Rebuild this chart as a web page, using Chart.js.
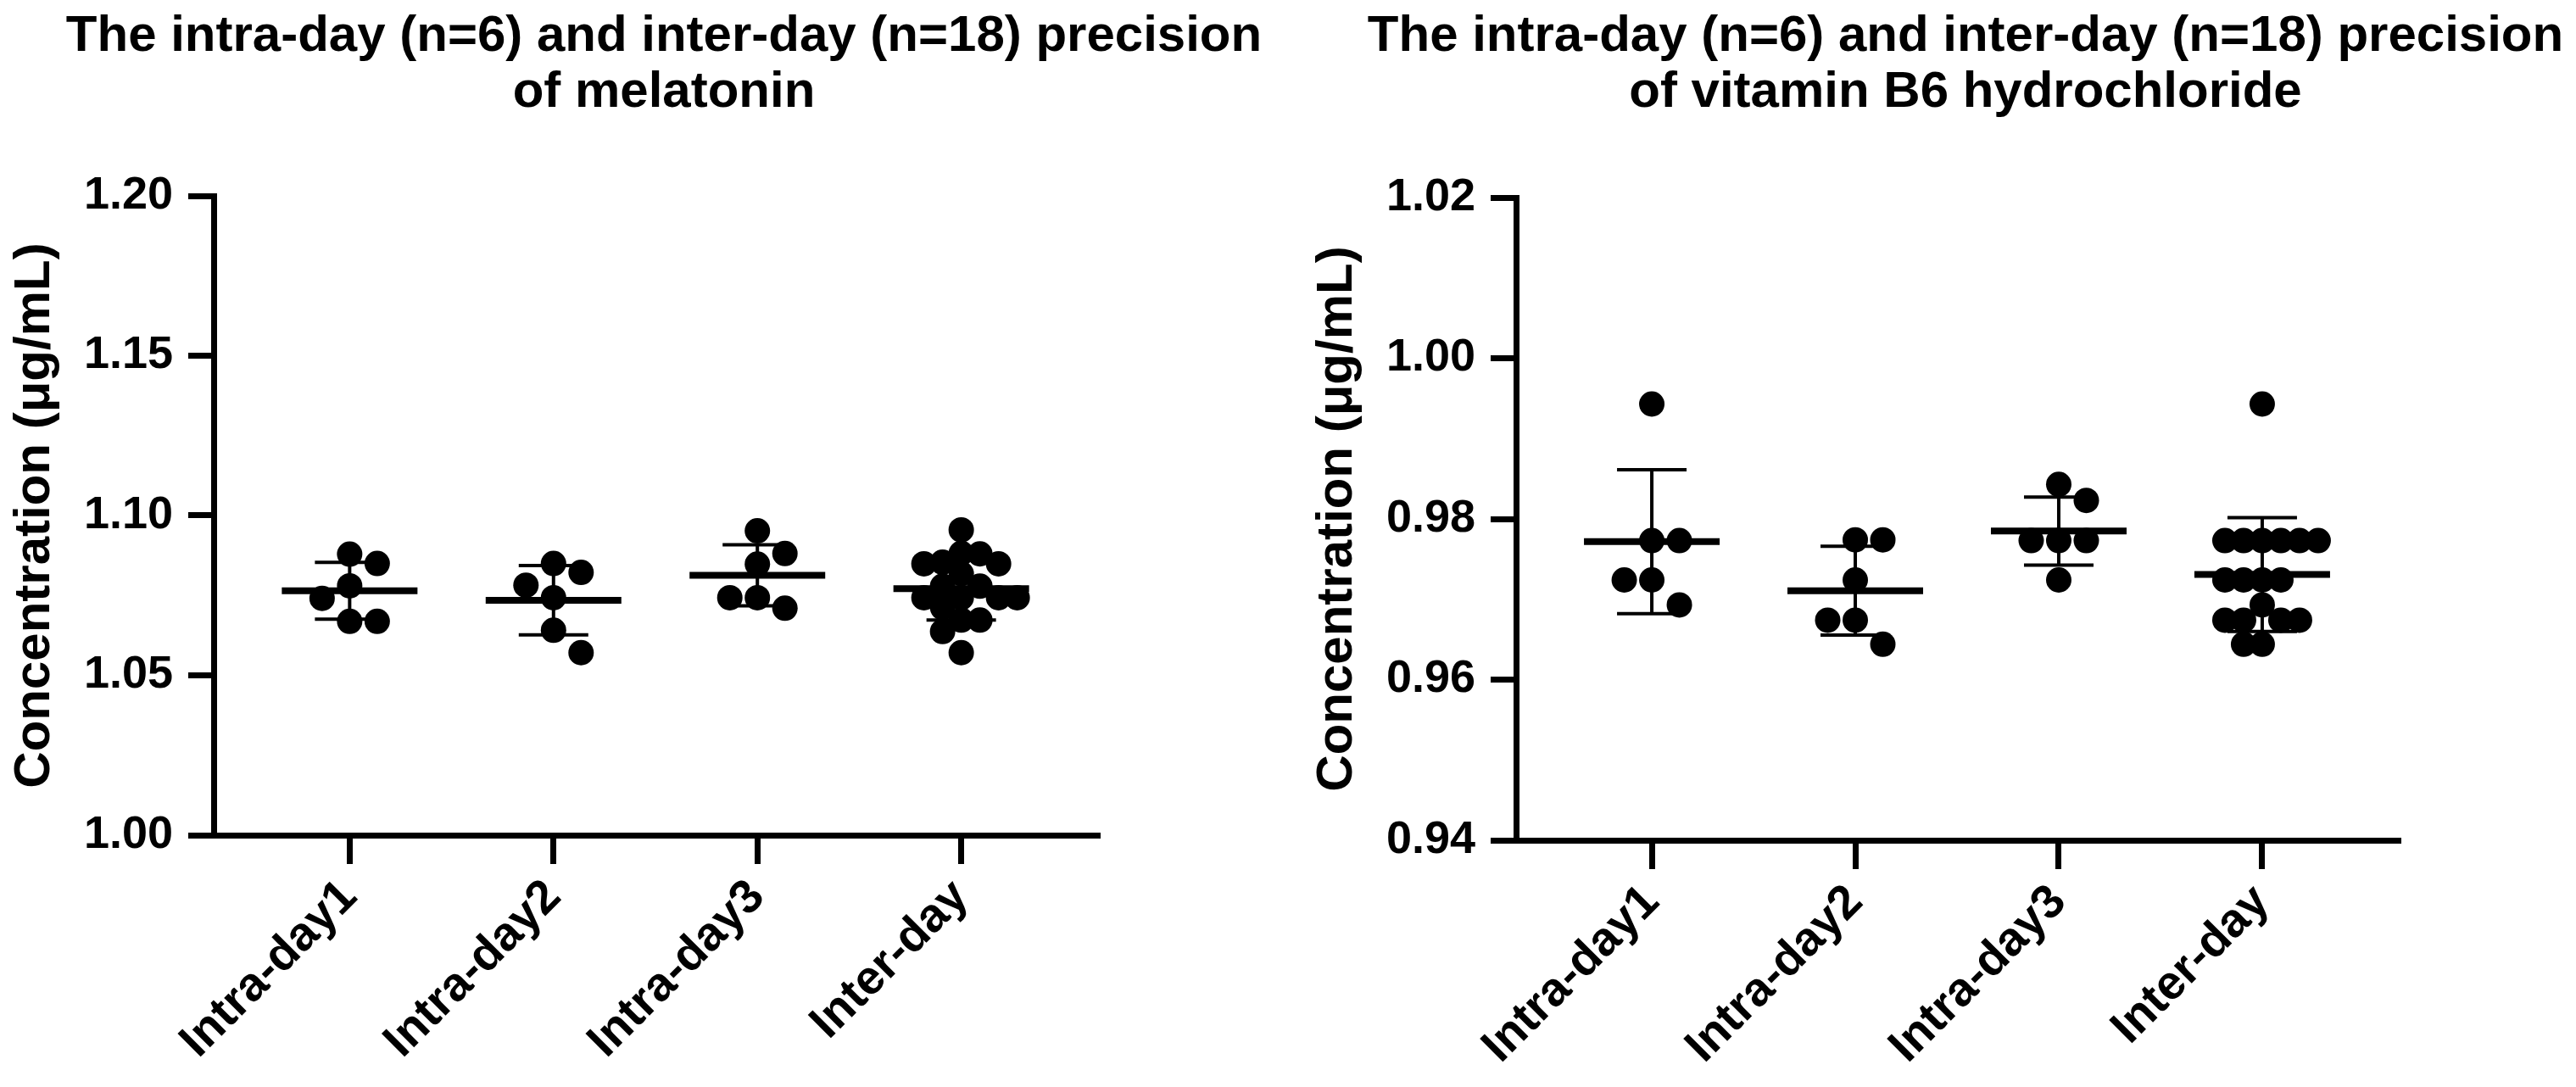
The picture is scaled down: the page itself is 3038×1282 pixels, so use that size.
<!DOCTYPE html>
<html>
<head>
<meta charset="utf-8">
<script src="https://cdn.jsdelivr.net/npm/chart.js@4.4.1/dist/chart.umd.min.js"></script>
<style>
  html, body { margin: 0; padding: 0; background: #fff; overflow: hidden; }
  #wrap { position: relative; width: 3038px; height: 1282px; }
  canvas { position: absolute; top: 0; }
  #chartMel { left: 0; }
  #chartB6 { left: 1536px; }
</style>
</head>
<body>
<div id="wrap">
  <canvas id="chartMel" width="1519" height="1282"></canvas>
  <canvas id="chartB6" width="1502" height="1282"></canvas>
</div>
<script>
var categories = ['Intra-day1', 'Intra-day2', 'Intra-day3', 'Inter-day'];

// melatonin (µg/mL)
var melIntra1 = [1.0850, 1.0879, 1.0780, 1.0741, 1.0669, 1.0669];
var melIntra2 = [1.0782, 1.0822, 1.0850, 1.0743, 1.0641, 1.0571];
var melIntra3 = [1.0881, 1.0952, 1.0848, 1.0710, 1.0743, 1.0743];
var melInter = [1.0955, 1.0849, 1.0880, 1.0882, 1.0854, 1.0849, 1.0818, 1.0779, 1.0779,
                1.0743, 1.0743, 1.0743, 1.0743, 1.0712, 1.0673, 1.0673, 1.0637, 1.0571];
var melTicks = [1.00, 1.05, 1.10, 1.15, 1.20];

// vitamin B6 hydrochloride (µg/mL)
var b6Intra1 = [0.9943, 0.9773, 0.9773, 0.9724, 0.9724, 0.9693];
var b6Intra2 = [0.9774, 0.9774, 0.9724, 0.9674, 0.9674, 0.9644];
var b6Intra3 = [0.9843, 0.9823, 0.9773, 0.9773, 0.9773, 0.9724];
var b6Inter = [0.9943, 0.9773, 0.9773, 0.9773, 0.9773, 0.9773, 0.9773,
               0.9724, 0.9724, 0.9724, 0.9724, 0.9693,
               0.9674, 0.9674, 0.9674, 0.9674, 0.9644, 0.9644];
var b6Ticks = [0.94, 0.96, 0.98, 1.00, 1.02];

var FONT = '"Liberation Sans", Arial, Helvetica, sans-serif';
Chart.defaults.font.family = FONT;
Chart.defaults.font.weight = 'bold';
Chart.defaults.color = '#000';

function mean(a) {
    return a.reduce(function(s, v) { return s + v; }, 0) / a.length;
}

function sd(a) {
    var m = mean(a);
    var ss = a.reduce(function(s, v) { return s + (v - m) * (v - m); }, 0);
    return Math.sqrt(ss / (a.length - 1));
}

// mean line with SD whiskers on top of the dots
function meanSdPlugin(groups) {
    return {
        id: 'meanSd',
        afterDatasetsDraw: function(chart) {
            var ctx = chart.ctx, x = chart.scales.x, y = chart.scales.y;
            ctx.save();
            ctx.strokeStyle = '#000';
            ctx.lineCap = 'butt';
            groups.forEach(function(vals, i) {
                var m = mean(vals), s = sd(vals);
                var cx = x.getPixelForValue(i + 1);
                var yTop = y.getPixelForValue(m + s);
                var yBot = y.getPixelForValue(m - s);
                var yM = y.getPixelForValue(m);
                ctx.lineWidth = 4;
                ctx.beginPath();
                ctx.moveTo(cx, yTop); ctx.lineTo(cx, yBot);
                ctx.moveTo(cx - 41, yTop); ctx.lineTo(cx + 41, yTop);
                ctx.moveTo(cx - 41, yBot); ctx.lineTo(cx + 41, yBot);
                ctx.stroke();
                ctx.lineWidth = 8;
                ctx.beginPath();
                ctx.moveTo(cx - 80, yM); ctx.lineTo(cx + 80, yM);
                ctx.stroke();
            });
            ctx.restore();
        }
    };
}

// two-line title over the plot, wider than the plot itself
function titlePlugin(lines) {
    return {
        id: 'plotTitle',
        afterDraw: function(chart) {
            var ctx = chart.ctx, a = chart.chartArea;
            var cx = (a.left + a.right) / 2 + 10;
            ctx.save();
            ctx.fillStyle = '#000';
            ctx.font = 'bold 60px ' + FONT;
            ctx.textAlign = 'center';
            ctx.textBaseline = 'middle';
            lines.forEach(function(t, i) { ctx.fillText(t, cx, 43 + i * 66); });
            ctx.restore();
        }
    };
}

// simple beeswarm: horizontal offsets (in x units) so dots do not pile up
function swarm(values, xScale, yScale, maxHalf) {
    var unit = xScale.getPixelForValue(1) - xScale.getPixelForValue(0);
    var ys = values.map(function(v) { return yScale.getPixelForValue(v); });
    var order = ys.map(function(y, i) { return i; }).sort(function(a, b) { return ys[a] - ys[b]; });
    for (var step = 32.5; step > 6; step -= 0.5) {
        var placed = [], off = [], sum = 0, ok = true;
        for (var n = 0; n < order.length; n++) {
            var i = order[n], best = null;
            for (var k = 0; k <= 20 && best === null; k++) {
                var pref = sum > 0 ? -1 : 1;
                var cands = k === 0 ? [0] : [pref * k * step, -pref * k * step];
                for (var c = 0; c < cands.length; c++) {
                    var dx = cands[c];
                    var free = placed.every(function(p) {
                        return Math.hypot(p.x - dx, p.y - ys[i]) >= step - 0.5;
                    });
                    if (free) { best = dx; break; }
                }
            }
            off[i] = best;
            sum += best;
            placed.push({ x: best, y: ys[i] });
            if (Math.abs(best) > maxHalf) { ok = false; break; }
        }
        if (ok) return off.map(function(px) { return px / unit; });
    }
    return values.map(function() { return 0; });
}

function buildPoints(groups, offsets) {
    var pts = [];
    groups.forEach(function(vals, i) {
        vals.forEach(function(v, j) {
            pts.push({ x: i + 1 + (offsets ? offsets[i][j] : 0), y: v });
        });
    });
    return pts;
}

function makeChart(id, cfg) {
    var canvas = document.getElementById(id);
    var chart = new Chart(canvas, {
        type: 'scatter',
        data: {
            datasets: [{
                data: buildPoints(cfg.groups),
                backgroundColor: '#000',
                borderWidth: 0,
                pointRadius: 15,
                pointHoverRadius: 15
            }]
        },
        options: {
            responsive: false,
            animation: false,
            devicePixelRatio: 1,
            events: [],
            layout: { padding: { left: 0, right: cfg.padRight, top: cfg.padTop, bottom: 0 } },
            plugins: {
                legend: { display: false },
                tooltip: { enabled: false },
                title: { display: false }
            },
            scales: {
                x: {
                    type: 'linear',
                    min: 0.333,
                    max: 4.667,
                    afterBuildTicks: function(axis) {
                        axis.ticks = categories.map(function(c, i) { return { value: i + 1 }; });
                    },
                    afterFit: function(axis) { axis.height = cfg.xHeight; },
                    ticks: {
                        autoSkip: false,
                        minRotation: 45,
                        maxRotation: 45,
                        padding: 6,
                        color: '#000',
                        font: { size: 56, weight: 'bold' },
                        callback: function(v) { return categories[Math.round(v) - 1]; }
                    },
                    grid: {
                        drawOnChartArea: false,
                        color: '#000',
                        lineWidth: 7,
                        tickWidth: 7,
                        tickLength: 34
                    },
                    border: { display: true, color: '#000', width: 7 }
                },
                y: {
                    type: 'linear',
                    min: cfg.ticks[0],
                    max: cfg.ticks[cfg.ticks.length - 1],
                    afterBuildTicks: function(axis) {
                        axis.ticks = cfg.ticks.map(function(t) { return { value: t }; });
                    },
                    afterFit: function(axis) { axis.width = 252; },
                    ticks: {
                        padding: 18,
                        color: '#000',
                        font: { size: 54, weight: 'bold' },
                        callback: function(v) { return Number(v).toFixed(2); }
                    },
                    grid: {
                        drawOnChartArea: false,
                        color: '#000',
                        lineWidth: 7,
                        tickWidth: 7,
                        tickLength: 30
                    },
                    border: { display: true, color: '#000', width: 7 },
                    title: {
                        display: true,
                        text: 'Concentration (μg/mL)',
                        color: '#000',
                        font: { size: 60, weight: 'bold', lineHeight: 1.2 },
                        padding: { top: 5, bottom: 0 }
                    }
                }
            }
        },
        plugins: [meanSdPlugin(cfg.groups), titlePlugin(cfg.title)]
    });

    var offsets = cfg.groups.map(function(vals) {
        return swarm(vals, chart.scales.x, chart.scales.y, 66);
    });
    chart.data.datasets[0].data = buildPoints(cfg.groups, offsets);
    chart.update('none');
    return chart;
}

makeChart('chartMel', {
    title: ['The intra-day (n=6) and inter-day (n=18) precision', 'of melatonin'],
    groups: [melIntra1, melIntra2, melIntra3, melInter],
    ticks: melTicks,
    padRight: 225,
    padTop: 231,
    xHeight: 297
});

makeChart('chartB6', {
    title: ['The intra-day (n=6) and inter-day (n=18) precision', 'of vitamin B6 hydrochloride'],
    groups: [b6Intra1, b6Intra2, b6Intra3, b6Inter],
    ticks: b6Ticks,
    padRight: 210,
    padTop: 233,
    xHeight: 291
});
</script>
</body>
</html>
